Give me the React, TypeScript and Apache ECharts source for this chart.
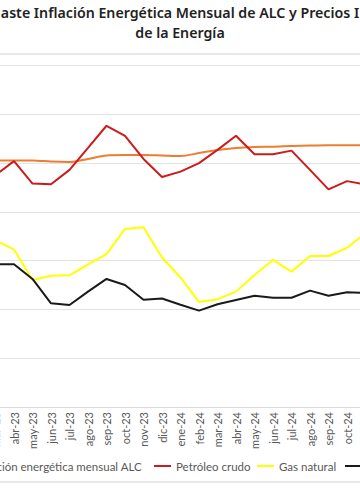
import React, { useEffect, useRef } from "react";
import * as echarts from "echarts";

const categories = [
  "mar-23", "abr-23", "may-23", "jun-23", "jul-23", "ago-23", "sep-23",
  "oct-23", "nov-23", "dic-23", "ene-24", "feb-24", "mar-24", "abr-24",
  "may-24", "jun-24", "jul-24", "ago-24", "sep-24", "oct-24", "nov-24",
];

const inflacionALC = [
  101.1, 101.1, 101.1, 100.6, 100.4, 101.7, 103.1, 103.3, 103.3, 103.1, 102.9,
  104.1, 105.4, 106.2, 106.6, 106.7, 107.0, 107.2, 107.3, 107.3, 107.3,
];

const petroleoCrudo = [
  95.1, 100.8, 91.6, 91.3, 97.2, 106.2, 115.3, 111.1, 101.7, 94.3, 96.5,
  100.0, 105.4, 111.2, 103.6, 103.6, 105.1, 97.2, 89.2, 92.6, 91.2,
];

const gasNatural = [
  68.3, 64.6, 52.1, 53.8, 54.0, 58.5, 62.7, 73.0, 73.7, 61.3, 53.1,
  43.0, 44.2, 47.3, 54.1, 60.3, 55.5, 61.9, 61.9, 65.3, 71.3,
];

const carbon = [
  58.5, 58.5, 52.5, 42.5, 41.8, 47.3, 52.5, 50.0, 44.0, 44.5, 41.9,
  39.5, 42.1, 43.9, 45.6, 44.8, 44.8, 47.7, 45.6, 47.0, 46.8,
];

const titleLines = [
  "aste Inflación Energética Mensual de ALC y Precios I",
  "de la Energía",
];

const names = {
  inflacion: "Inflación energética mensual ALC",
  petroleo: "Petróleo crudo",
  gas: "Gas natural",
  carbon: "Carbón",
};

// The reference is a crop of a wider chart: the chart is drawn OFFSET px
// to the left inside a 360x504 window.
const OFFSET = 20;
const CHART_W = 400;

export default function App() {
  const ref = useRef<HTMLDivElement>(null);

  useEffect(() => {
    if (!ref.current) return;
    const chart = echarts.init(ref.current, null, { renderer: "svg" });
    const legendText = { fontFamily: "Lato", fontSize: 11.5, color: "#595959" };
    const legendBase = {
      orient: "horizontal",
      top: 460,
      padding: 0,
      icon: "rect",
      itemWidth: 17,
      itemHeight: 2,
      itemGap: 12,
      textStyle: legendText,
    };
    const titleStyle = {
      fontFamily: "Noto Sans",
      fontSize: 14.2,
      fontWeight: 600,
      fill: "#222222",
      textAlign: "center",
      textVerticalAlign: "middle",
    };
    chart.setOption({
      animation: false,
      backgroundColor: "#ffffff",
      graphic: [
        {
          type: "text",
          x: 180 + OFFSET,
          y: 12,
          silent: true,
          style: { ...titleStyle, text: titleLines[0] },
        },
        {
          type: "text",
          x: 180 + OFFSET,
          y: 32,
          silent: true,
          style: { ...titleStyle, text: titleLines[1] },
        },
        {
          type: "line",
          shape: { x1: 0, y1: 54, x2: CHART_W, y2: 54 },
          style: { stroke: "#e8e8e8", lineWidth: 2 },
          silent: true,
        },
        {
          type: "line",
          shape: { x1: 0, y1: 482, x2: CHART_W, y2: 482 },
          style: { stroke: "#e8e8e8", lineWidth: 2 },
          silent: true,
        },
      ],
      legend: [
        { ...legendBase, right: CHART_W - (142 + OFFSET), data: [names.inflacion] },
        { ...legendBase, left: 154 + OFFSET, data: [names.petroleo] },
        { ...legendBase, left: 257 + OFFSET, data: [names.gas] },
        { ...legendBase, left: 345 + OFFSET, data: [names.carbon] },
      ],
      grid: {
        left: -4.5 + OFFSET,
        right: CHART_W - (365.5 + OFFSET),
        top: 65.5,
        bottom: 97,
        containLabel: false,
      },
      xAxis: {
        type: "category",
        data: categories,
        boundaryGap: false,
        axisLine: { lineStyle: { color: "#d9d9d9", width: 1 } },
        axisTick: { show: false },
        axisLabel: {
          rotate: 90,
          interval: 0,
          margin: 5,
          fontFamily: "Lato",
          fontSize: 11,
          color: "#595959",
        },
      },
      yAxis: {
        type: "value",
        min: 0,
        max: 140,
        interval: 20,
        axisLabel: { show: false },
        axisLine: { show: false },
        axisTick: { show: false },
        splitLine: { lineStyle: { color: "#e3e3e3", width: 1 } },
      },
      series: [
        {
          name: names.inflacion,
          type: "line",
          data: inflacionALC,
          smooth: 0.3,
          symbol: "none",
          lineStyle: { color: "#ED7D31", width: 2 },
          itemStyle: { color: "#ED7D31" },
        },
        {
          name: names.petroleo,
          type: "line",
          data: petroleoCrudo,
          symbol: "none",
          lineStyle: { color: "#CC1B1B", width: 2 },
          itemStyle: { color: "#CC1B1B" },
        },
        {
          name: names.gas,
          type: "line",
          data: gasNatural,
          symbol: "none",
          lineStyle: { color: "#FFFF00", width: 2 },
          itemStyle: { color: "#FFFF00" },
        },
        {
          name: names.carbon,
          type: "line",
          data: carbon,
          symbol: "none",
          lineStyle: { color: "#1a1a1a", width: 2 },
          itemStyle: { color: "#1a1a1a" },
        },
      ],
    });
    return () => chart.dispose();
  }, []);

  return (
    <div
      style={{
        position: "fixed",
        left: 0,
        top: 0,
        width: 360,
        height: 504,
        overflow: "hidden",
        background: "#ffffff",
      }}
    >
      <div
        ref={ref}
        style={{
          position: "absolute",
          left: -OFFSET,
          top: 0,
          width: CHART_W,
          height: 504,
        }}
      />
    </div>
  );
}
